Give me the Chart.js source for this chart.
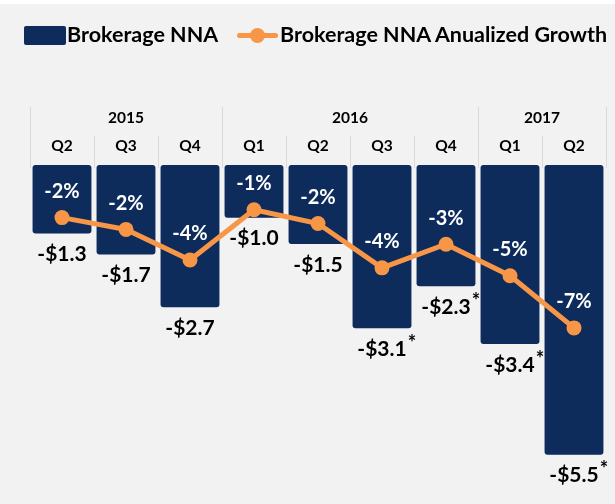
<!DOCTYPE html>
<html>
<head>
    <title>Brokerage NNA</title>
    <script src="https://cdn.jsdelivr.net/npm/chart.js"></script>
    <style>
        body {
            margin: 0;
            background: #f2f2f2;
            font-family: Lato, Arial, sans-serif;
        }
        .wrap {
            position: relative;
            width: 615px;
            height: 504px;
            overflow: hidden;
        }
        .topband {
            position: absolute;
            left: 0; top: 0;
            width: 615px; height: 4px;
            background: #fff;
        }
        canvas {
            position: absolute;
            left: 0; top: 0;
        }
        .legend-box {
            position: absolute;
            left: 24px; top: 26px;
            width: 42px; height: 19px;
            background: #0d2b5b;
            border-radius: 2px;
        }
        .legend-line {
            position: absolute;
            left: 237px; top: 33px;
            width: 41px; height: 5px;
            background: #f79646;
            border-radius: 3px;
        }
        .legend-dot {
            position: absolute;
            left: 250px; top: 28px;
            width: 15px; height: 15px;
            background: #f79646;
            border-radius: 50%;
        }
        .legend-text {
            position: absolute;
            top: 21px;
            font-weight: bold;
            font-size: 21.5px;
            color: #000;
            white-space: nowrap;
        }
    </style>
</head>
<body>
<div class="wrap">
    <div class="topband"></div>
    <canvas id="chart" width="615" height="504"></canvas>
    <div class="legend-box"></div>
    <div class="legend-text" style="left:67px">Brokerage NNA</div>
    <div class="legend-line"></div>
    <div class="legend-dot"></div>
    <div class="legend-text" style="left:280px">Brokerage NNA Anualized Growth</div>
</div>

<script>
    // data
    const quarters = ['Q2', 'Q3', 'Q4', 'Q1', 'Q2', 'Q3', 'Q4', 'Q1', 'Q2'];
    const years = ['2015', '2015', '2015', '2016', '2016', '2016', '2016', '2017', '2017'];
    const nna = [-1.3, -1.7, -2.7, -1.0, -1.5, -3.1, -2.3, -3.4, -5.5];
    const nnaStar = [false, false, false, false, false, true, true, true, true];
    const growth = [-1.4, -2.0, -3.55, -1.0, -1.7, -3.95, -2.75, -4.35, -7.0];
    const growthLabels = ['-2%', '-2%', '-4%', '-1%', '-2%', '-4%', '-3%', '-5%', '-7%'];

    const NAVY = '#0d2b5b';
    const ORANGE = '#f79646';
    const GRID = '#d9d9d9';

    const headerPlugin = {
        id: 'header',
        afterDraw(chart) {
            const ctx = chart.ctx;
            const x = chart.scales.x;
            const half = (x.getPixelForValue(1) - x.getPixelForValue(0)) / 2;
            ctx.save();
            ctx.strokeStyle = GRID;
            ctx.lineWidth = 1;
            // vertical lines, tall at year boundaries
            for (let i = 0; i <= quarters.length; i++) {
                const px = Math.round(x.getPixelForValue(i) - half) + 0.5;
                const yearEdge = i === 0 || i === quarters.length || years[i] !== years[i - 1];
                ctx.beginPath();
                ctx.moveTo(px, yearEdge ? 107 : 136);
                ctx.lineTo(px, 168);
                ctx.stroke();
            }
            ctx.fillStyle = '#000';
            ctx.textAlign = 'center';
            ctx.textBaseline = 'middle';
            ctx.font = 'bold 15.5px Lato, Arial, sans-serif';
            quarters.forEach((q, i) => {
                ctx.fillText(q, x.getPixelForValue(i), 146);
            });
            // year groups
            let start = 0;
            for (let i = 1; i <= years.length; i++) {
                if (i === years.length || years[i] !== years[start]) {
                    const cx = (x.getPixelForValue(start) + x.getPixelForValue(i - 1)) / 2;
                    ctx.fillText(years[start], cx, 118);
                    start = i;
                }
            }
            ctx.restore();
        },
        afterDatasetsDraw(chart) {
            const ctx = chart.ctx;
            const bars = chart.getDatasetMeta(1).data;
            const pts = chart.getDatasetMeta(0).data;
            ctx.save();
            ctx.textAlign = 'center';
            ctx.textBaseline = 'middle';
            // value labels under bars
            bars.forEach((bar, i) => {
                const txt = '-$' + Math.abs(nna[i]).toFixed(1);
                ctx.font = 'bold 21px Lato, Arial, sans-serif';
                ctx.fillStyle = '#000';
                const ly = bar.y + 21;
                ctx.fillText(txt, bar.x, ly);
                if (nnaStar[i]) {
                    const w = ctx.measureText(txt).width;
                    ctx.font = 'bold 20px Lato, Arial, sans-serif';
                    ctx.textAlign = 'left';
                    ctx.fillText('*', bar.x + w / 2 + 1, ly - 6);
                    ctx.textAlign = 'center';
                }
            });
            // growth labels above points
            ctx.font = 'bold 20px Lato, Arial, sans-serif';
            ctx.fillStyle = '#fff';
            pts.forEach((p, i) => {
                ctx.fillText(growthLabels[i], p.x, p.y - 26);
            });
            ctx.restore();
        }
    };

    new Chart(document.getElementById('chart'), {
        data: {
            labels: quarters,
            datasets: [
                {
                    type: 'line',
                    label: 'Brokerage NNA Anualized Growth',
                    data: growth,
                    yAxisID: 'y1',
                    borderColor: ORANGE,
                    backgroundColor: ORANGE,
                    borderWidth: 5,
                    pointRadius: 7.5,
                    pointBackgroundColor: ORANGE,
                    pointBorderWidth: 0,
                    tension: 0,
                    order: 0
                },
                {
                    type: 'bar',
                    label: 'Brokerage NNA',
                    data: nna,
                    yAxisID: 'y',
                    backgroundColor: NAVY,
                    borderRadius: 3,
                    borderSkipped: false,
                    barPercentage: 0.92,
                    categoryPercentage: 1,
                    order: 1
                }
            ]
        },
        options: {
            responsive: false,
            animation: false,
            events: [],
            layout: {
                padding: { top: 165, left: 30, right: 9, bottom: 23 }
            },
            plugins: {
                legend: { display: false },
                tooltip: { enabled: false }
            },
            scales: {
                x: { display: false, offset: true },
                y: { display: false, min: -6, max: 0 },
                y1: { display: false, min: -14.77, max: 1.27 }
            }
        },
        plugins: [headerPlugin]
    });
</script>
</body>
</html>
